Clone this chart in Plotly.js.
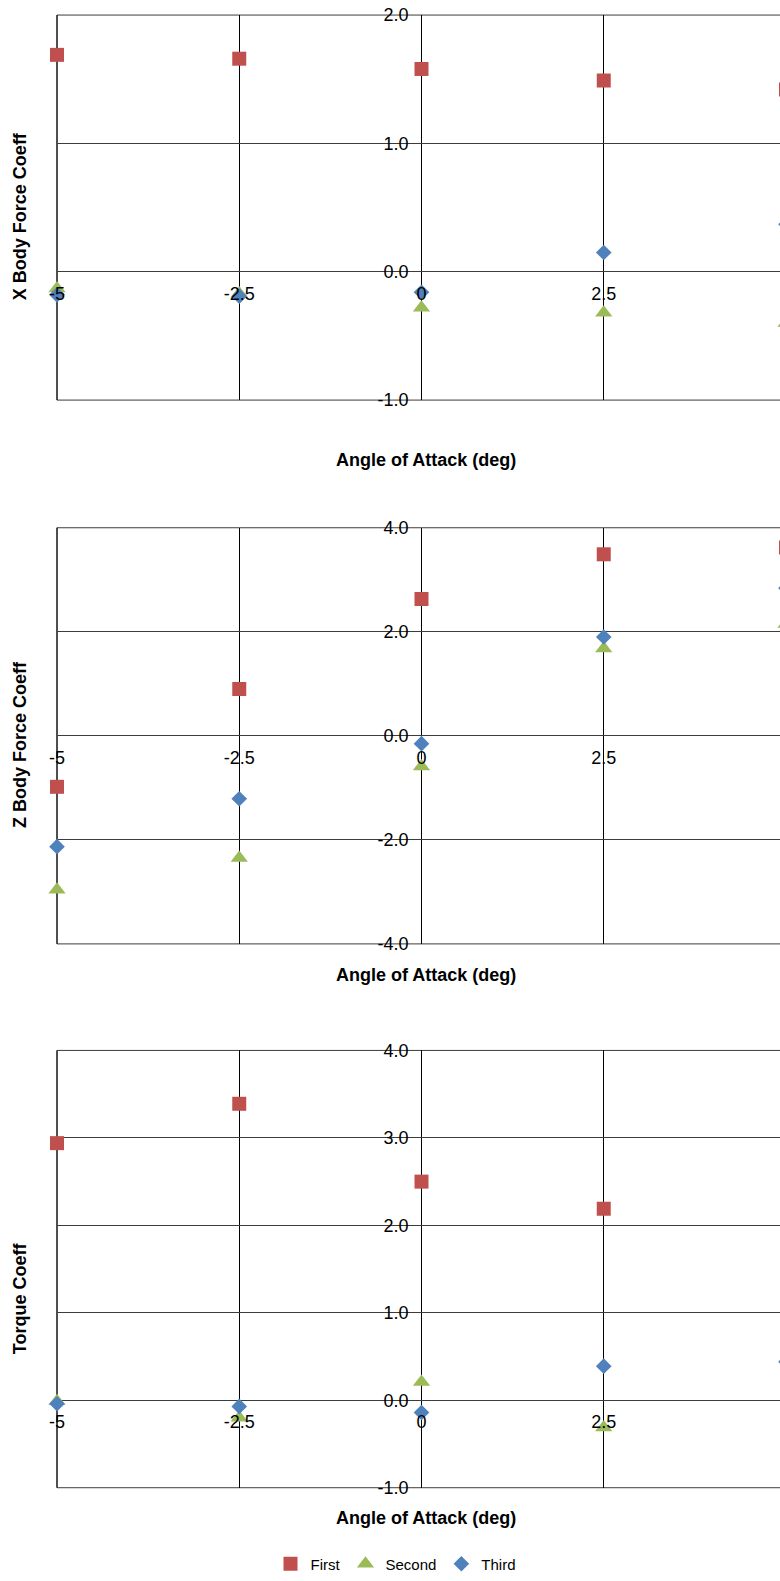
<!DOCTYPE html>
<html>
<head>
<meta charset="utf-8">
<script src="https://cdn.plot.ly/plotly-3.0.1.min.js"></script>
<style>
  html, body { margin: 0; padding: 0; background: #fff; overflow: hidden; }
  #wrap { width: 780px; height: 1581px; overflow: hidden; }
  #plot { width: 820px; height: 1581px; }
</style>
</head>
<body>
<div id="wrap"><div id="plot"></div></div>
<script>
// ---- data ----
const aoa = [-5, -2.5, 0, 2.5, 5];
const seriesNames = ['First', 'Second', 'Third'];

const xFirst  = [1.69, 1.66, 1.58, 1.49, 1.42];
const xSecond = [-0.13, -0.17, -0.28, -0.32, -0.40];
const xThird  = [-0.18, -0.19, -0.16, 0.15, 0.37];

const zFirst  = [-0.98, 0.90, 2.63, 3.49, 3.62];
const zSecond = [-2.96, -2.35, -0.59, 1.68, 2.15];
const zThird  = [-2.13, -1.21, -0.15, 1.90, 2.84];

const tFirst  = [2.94, 3.39, 2.50, 2.19, null];
const tSecond = [-0.01, -0.20, 0.21, -0.31, null];
const tThird  = [-0.04, -0.07, -0.14, 0.39, 0.44];

const xTickVals = [-5, -2.5, 0, 2.5];
const xTickText = ['-5', '-2.5', '0', '2.5'];
const y1TickVals = [-1, 0, 1, 2];
const y1TickText = ['-1.0', '0.0', '1.0', '2.0'];
const y2TickVals = [-4, -2, 0, 2, 4];
const y2TickText = ['-4.0', '-2.0', '0.0', '2.0', '4.0'];
const y3TickVals = [-1, 0, 1, 2, 3, 4];
const y3TickText = ['-1.0', '0.0', '1.0', '2.0', '3.0', '4.0'];

const yTitles = ['X Body Force Coeff', 'Z Body Force Coeff', 'Torque Coeff'];
const xTitle = 'Angle of Attack (deg)';

// ---- styles / layout constants ----
const colors = ['#C0504D', '#9BBB59', '#4F81BD'];
const symbols = ['square', 'triangle-up', 'diamond'];
const sizes = [14, 15, 12];

const W = 820, H = 1581, ML = 57;
const plotW = W - ML;
const PXU = 72.9;
const xMin = -5, xMax = -5 + plotW / PXU;
const yPosFrac = (0 - xMin) / (xMax - xMin);

const panelsPx = [[15.1, 401.1], [529.1, 946.3], [1053.1, 1491.5]];
const yRanges = [[-1, 2], [-4, 4], [-1, 4]];
const yTicks = [[y1TickVals, y1TickText], [y2TickVals, y2TickText], [y3TickVals, y3TickText]];
const xTitleY = [461.5, 977.5, 1521.7];
const yTitleY = [216.7, 747, 1301.5];

const panelData = [
  [xFirst, xSecond, xThird],
  [zFirst, zSecond, zThird],
  [tFirst, tSecond, tThird]
];

const FONT = 'Liberation Sans, Arial, sans-serif';
const GRID_H = '#3c3c3c';
const traces = [];
const layout = {
  width: W, height: H,
  margin: {l: ML, r: 0, t: 0, b: 0},
  paper_bgcolor: '#fff', plot_bgcolor: '#fff',
  font: {family: FONT, color: '#000', size: 18},
  showlegend: true,
  legend: {
    orientation: 'h', x: (396 - ML) / plotW, xanchor: 'center',
    y: (H - 1568) / H, yanchor: 'middle',
    font: {family: FONT, size: 15, color: '#000'},
    traceorder: 'normal', itemwidth: 30
  },
  annotations: [],
  shapes: []
};

panelData.forEach((series, p) => {
  const sfx = p === 0 ? '' : String(p + 1);
  const d0 = 1 - panelsPx[p][1] / H, d1 = 1 - panelsPx[p][0] / H;
  const [ymin, ymax] = yRanges[p];
  const zeroFrac = d0 + (0 - ymin) / (ymax - ymin) * (d1 - d0);

  series.forEach((vals, s) => {
    traces.push({
      type: 'scatter', mode: 'markers',
      x: aoa, y: vals,
      xaxis: 'x' + sfx, yaxis: 'y' + sfx,
      name: seriesNames[s], legendgroup: seriesNames[s],
      showlegend: p === 0,
      cliponaxis: false,
      marker: {symbol: symbols[s], color: colors[s], size: sizes[s], line: {width: 0}}
    });
  });

  layout['xaxis' + sfx] = {
    range: [xMin, xMax], domain: [0, 1],
    anchor: 'free', position: zeroFrac,
    tickvals: xTickVals, ticktext: xTickText,
    showgrid: true, gridcolor: '#000', gridwidth: 1,
    zeroline: false, showline: false, ticks: '',
    tickfont: {family: FONT, size: 18, color: '#000'},
    ticklabelstandoff: 9, fixedrange: true
  };
  layout['yaxis' + sfx] = {
    range: [ymin, ymax], domain: [d0, d1],
    anchor: 'free', position: yPosFrac,
    tickvals: yTicks[p][0], ticktext: yTicks[p][1],
    showgrid: true, gridcolor: GRID_H, gridwidth: 1,
    zeroline: false, showline: false, ticks: '',
    tickfont: {family: FONT, size: 18, color: '#000'},
    ticklabelstandoff: 13, fixedrange: true
  };

  // plot-area frame (edge gridlines at the range limits)
  layout.shapes.push({
    type: 'rect', layer: 'below',
    xref: 'x' + sfx + ' domain', yref: 'y' + sfx + ' domain',
    x0: 0, x1: 1, y0: 0, y1: 1,
    line: {color: GRID_H, width: 1}
  });
  layout.shapes.push({
    type: 'line', layer: 'below',
    xref: 'x' + sfx + ' domain', yref: 'y' + sfx + ' domain',
    x0: 0, x1: 0, y0: 0, y1: 1,
    line: {color: '#000', width: 1}
  });

  layout.annotations.push({
    xref: 'paper', yref: 'paper',
    x: (426 - ML) / plotW, y: 1 - xTitleY[p] / H,
    xanchor: 'center', yanchor: 'middle', showarrow: false,
    text: '<b>' + xTitle + '</b>',
    font: {family: FONT, size: 18, color: '#000'}
  });
  layout.annotations.push({
    xref: 'paper', yref: 'paper',
    x: (20 - ML) / plotW, y: 1 - yTitleY[p] / H,
    xanchor: 'center', yanchor: 'middle', showarrow: false, textangle: -90,
    text: '<b>' + yTitles[p] + '</b>',
    font: {family: FONT, size: 18, color: '#000'}
  });
});

Plotly.newPlot('plot', traces, layout, {displayModeBar: false, staticPlot: true});
</script>
</body>
</html>
